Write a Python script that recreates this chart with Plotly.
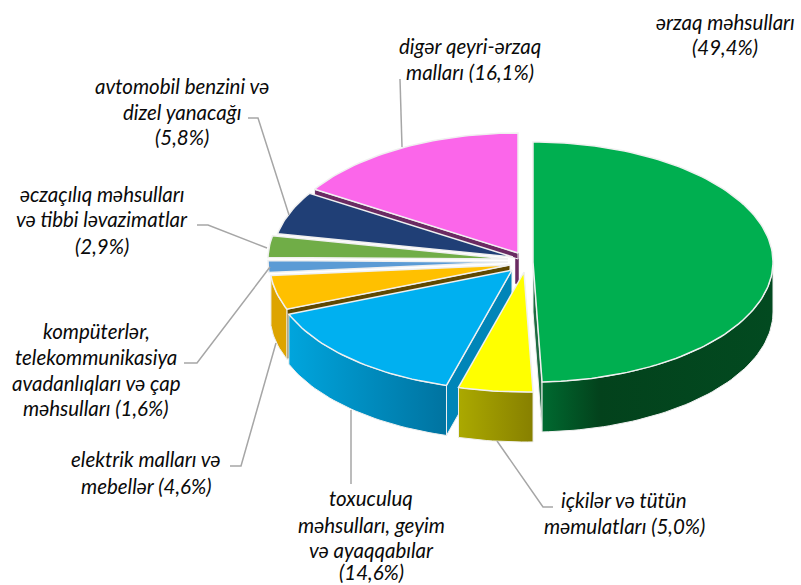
import math
import plotly.graph_objects as go

# ---- data ----
categories = ["ərzaq məhsulları", "içkilər və tütün məmulatları",
              "toxuculuq məhsulları, geyim və ayaqqabılar", "elektrik malları və mebellər",
              "kompüterlər, telekommunikasiya avadanlıqları və çap məhsulları",
              "əczaçılıq məhsulları və tibbi ləvazimatlar",
              "avtomobil benzini və dizel yanacağı", "digər qeyri-ərzaq malları"]
values = [49.4, 5.0, 14.6, 4.6, 1.6, 2.9, 5.8, 16.1]

label_lines = [
    ["ərzaq məhsulları", "(49,4%)"],
    ["içkilər və tütün", "məmulatları (5,0%)"],
    ["toxuculuq", "məhsulları, geyim", "və ayaqqabılar", "(14,6%)"],
    ["elektrik malları və", "mebellər (4,6%)"],
    ["kompüterlər,", "telekommunikasiya", "avadanlıqları və çap", "məhsulları (1,6%)"],
    ["əczaçılıq məhsulları", "və tibbi ləvazimatlar", "(2,9%)"],
    ["avtomobil benzini və", "dizel yanacağı", "(5,8%)"],
    ["digər qeyri-ərzaq", "malları (16,1%)"],
]

# ---- styling / layout ----
top_colors = ["#00AF50", "#FFFF00", "#00B0F0", "#FFC000", "#5B9BD5", "#70AD47", "#203F76", "#FB66EA"]
rim_gradients = {0: [[0, "#006A30"], [0.25, "#03421C"], [1, "#024A20"]],
                 1: [[0, "#ABA900"], [1, "#878000"]],
                 2: [[0, "#00A5DD"], [1, "#0073A0"]],
                 3: [[0, "#DDA400"], [1, "#DDA400"]]}
cut_colors = {0: "#1D6A40", 2: "#0085B8", 3: "#5F4800", 7: "#6A2A62"}
cut_depths = {0: 50, 2: 50, 3: 50, 7: 6}
origins = [(533, 262), (524, 272), (512, 270), (510, 265), (508, 262), (508, 259), (513, 257), (518, 253)]
RX, RY, DEPTH = 240, 120, 50
OUTLINE = "#F0F0F0"
LEADER = "#A6A6A6"
FONT = dict(family="Lato", size=20.5, color="#0A0A0A")

label_centers = [725, 624, 371, 146, 96, 102, 182, 470]
label_rows = [[22, 47], [500, 526], [498, 525, 550, 572], [459, 486],
              [331, 357, 383, 408], [194, 219, 246], [86, 112, 137], [46, 72]]
leaders = [
    ([400, 402], [79, 147]),
    ([248, 258, 289], [118, 118, 215]),
    ([197, 208, 267], [225, 225, 248]),
    ([184, 197, 270], [363, 363, 267]),
    ([230, 241, 276], [466, 466, 343]),
    ([351, 351], [410, 484]),
    ([497, 543, 553], [441, 507, 507]),
]

# ---- geometry derived from the values ----
total = sum(values)
bounds = [0.0]
for v in values:
    bounds.append(bounds[-1] + 360 * v / total)


def rim_point(i, deg, drop=0):
    ox, oy = origins[i]
    t = math.radians(deg)
    return ox + RX * math.sin(t), oy - RY * math.cos(t) + drop


def arc(i, a0, a1, drop=0):
    n = max(2, int(abs(a1 - a0) / 1.5) + 2)
    return [rim_point(i, a0 + (a1 - a0) * k / (n - 1), drop) for k in range(n)]


fig = go.Figure()


def poly(points, color=None, gradient=None, line_w=1.5):
    xs = [p[0] for p in points] + [points[0][0]]
    ys = [p[1] for p in points] + [points[0][1]]
    kw = dict(fill="toself", mode="lines", hoverinfo="skip", showlegend=False,
              line=dict(color=OUTLINE, width=line_w))
    if gradient is not None:
        kw["fillgradient"] = dict(type="horizontal", colorscale=gradient,
                                  start=min(xs), stop=max(xs))
    else:
        kw["fillcolor"] = color
    fig.add_trace(go.Scatter(x=xs, y=ys, **kw))


def draw_slice(i):
    a0, a1 = bounds[i], bounds[i + 1]
    o = origins[i]
    if i in cut_colors:
        ang = a1 if i == 0 else a0
        d = cut_depths[i]
        e = rim_point(i, ang)
        poly([o, e, (e[0], e[1] + d), (o[0], o[1] + d)], color=cut_colors[i], line_w=1)
    if i in rim_gradients:
        lo, hi = max(a0, 90), min(a1, 270)
        if hi > lo:
            poly(arc(i, lo, hi) + arc(i, hi, lo, DEPTH), gradient=rim_gradients[i], line_w=1)
    poly([o] + arc(i, a0, a1), color=top_colors[i])


# back-to-front painting; the strip below the pink slice's apex comes first
px, py = origins[7]
poly([(px - 3, py), (px + 1, py), (px + 1, py + 31), (px - 3, py + 31)], color=cut_colors[7], line_w=0.5)
for i in [7, 6, 5, 4, 3, 2, 0, 1]:
    draw_slice(i)

for xs, ys in leaders:
    fig.add_trace(go.Scatter(x=xs, y=ys, mode="lines", hoverinfo="skip", showlegend=False,
                             line=dict(color=LEADER, width=1.5)))

for lines, cx, rows in zip(label_lines, label_centers, label_rows):
    for text, y in zip(lines, rows):
        fig.add_annotation(x=cx, y=y, text=f"<i>{text}</i>", showarrow=False,
                           xanchor="center", yanchor="middle", font=FONT)

fig.update_layout(width=801, height=585, margin=dict(l=0, r=0, t=0, b=0),
                  paper_bgcolor="white", plot_bgcolor="white", showlegend=False,
                  xaxis=dict(range=[0, 801], visible=False, fixedrange=True),
                  yaxis=dict(range=[585, 0], visible=False, fixedrange=True))
fig.write_html("out.html", config=dict(displayModeBar=False),
               post_script="document.body.style.margin='0';document.documentElement.style.overflow='hidden';")
